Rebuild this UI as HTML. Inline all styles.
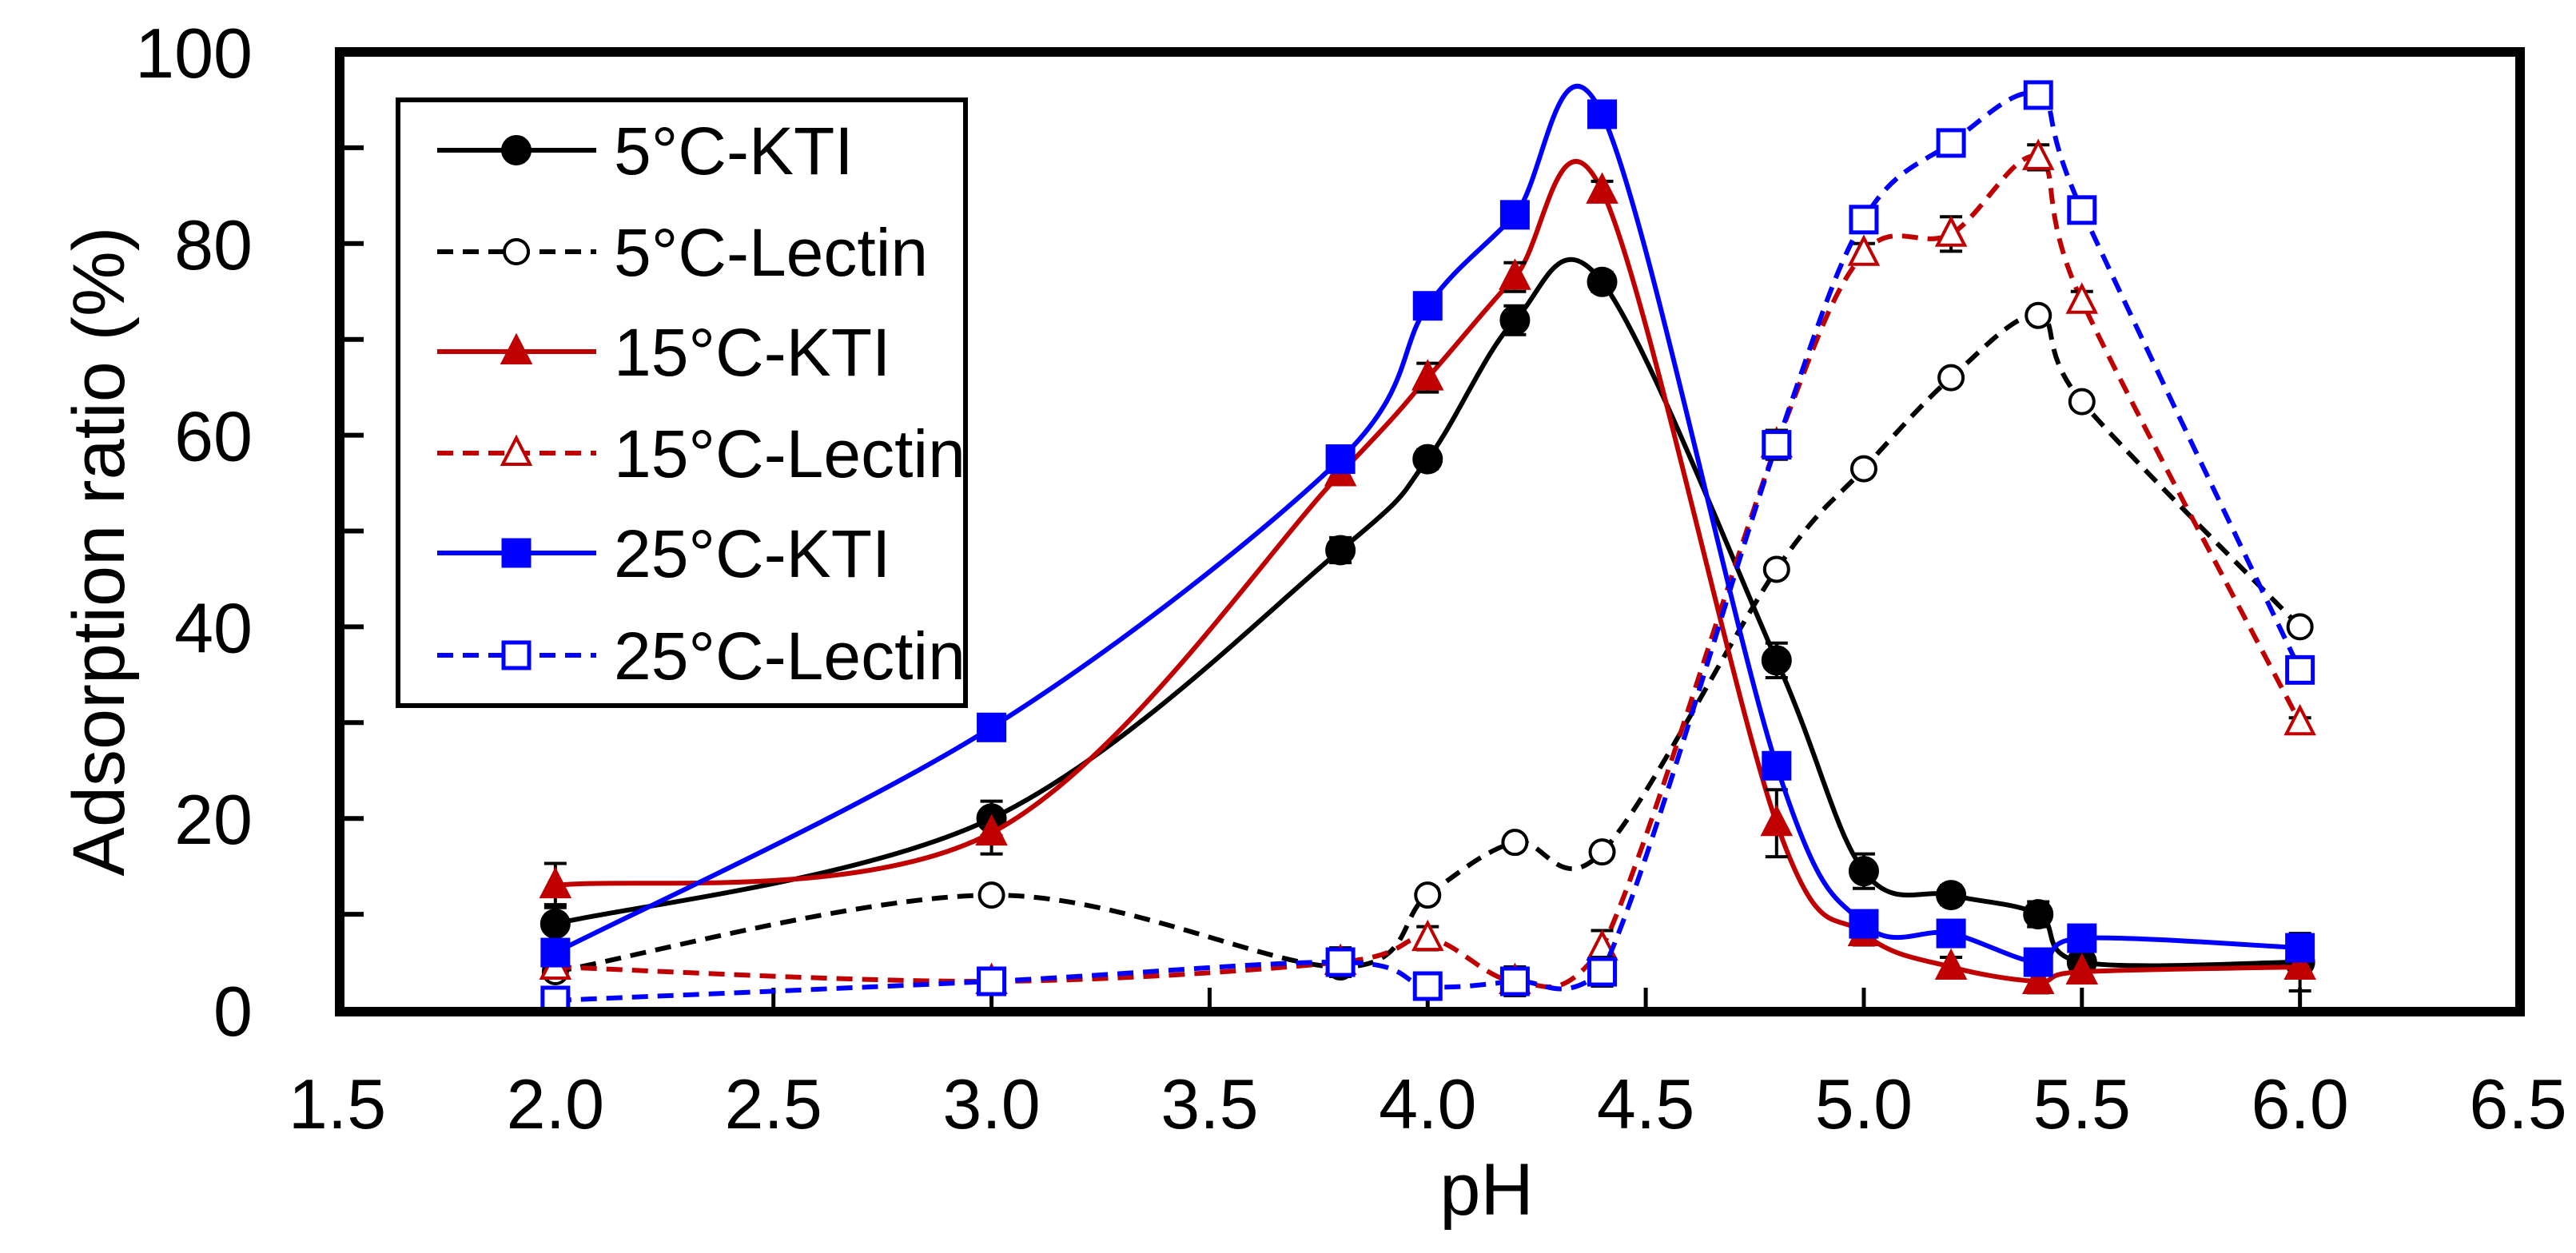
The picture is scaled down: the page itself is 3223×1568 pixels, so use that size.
<!DOCTYPE html>
<html><head><meta charset="utf-8"><style>
html,body{margin:0;padding:0;background:#fff;}
svg{display:block;font-family:"Liberation Sans",Arial,sans-serif;}
</style></head><body>
<svg id="chart" width="3223" height="1568" viewBox="0 0 3223 1568" xmlns="http://www.w3.org/2000/svg">
<rect x="0" y="0" width="3223" height="1568" fill="#fff"/>
<g id="axes"></g>
<g id="series"></g>
<rect x="425" y="65" width="2728" height="1201" fill="none" stroke="#000" stroke-width="12"/>
<g id="legend"></g>
<text x="1860" y="1520" font-size="92" text-anchor="middle">pH</text>
<text transform="translate(155,690) rotate(-90)" font-size="92" text-anchor="middle">Adsorption ratio (%)</text>
</svg>
<script>
const phValues = [2.0, 3.0, 3.8, 4.0, 4.2, 4.4, 4.8, 5.0, 5.2, 5.4, 5.5, 6.0];
const kti5 = [9, 20, 48, 57.5, 72, 76, 36.5, 14.5, 12, 10, 5, 5];
const lectin5 = [4, 12, 4.5, 12, 17.5, 16.5, 46, 56.5, 66, 72.5, 63.5, 40];
const kti15 = [13, 18.5, 56, 66, 76.5, 85.5, 19.5, 8, 4.5, 3, 4, 4.5];
const lectin15 = [4.5, 3, 5, 7.5, 3, 6.5, 59, 79, 81, 89, 74, 30];
const kti25 = [6, 29.5, 57.5, 73.5, 83, 93.5, 25.5, 9, 8, 5, 7.5, 6.5];
const lectin25 = [1, 3, 5, 2.5, 3, 4, 59, 82.5, 90.5, 95.5, 83.5, 35.5];
const err5k = [2, 1.8, 1.3, 1, 1.5, 1, 1.8, 1.8, 1, 1.3, 0.5, 3];
const err15k = [2.3, 2.2, 0.5, 1.5, 1.5, 1, 3.5, 1.2, 1, 1.2, 1, 0.5];
const err15l = [0.5, 0.5, 1.5, 1.2, 1.5, 1.8, 1.5, 1, 1.8, 1.3, 1, 0.5];
const err25l = [0.5, 0.5, 0.8, 0.5, 0.5, 1.5, 1.5, 1, 1.3, 0.5, 0.5, 0.5];
const xTicks = [1.5, 2.0, 2.5, 3.0, 3.5, 4.0, 4.5, 5.0, 5.5, 6.0, 6.5];
const yTicks = [0, 20, 40, 60, 80, 100];
const yMinor = [10, 30, 50, 70, 90];

const NS = "http://www.w3.org/2000/svg";
const X0 = 422, XS = 545.7, Y0 = 1264, YS = 11.99;
function xs(v){ return X0 + (v - 1.5) * XS; }
function ys(v){ return Y0 - v * YS; }
function mk(tag, attrs, parent){
  const e = document.createElementNS(NS, tag);
  for (const k in attrs) e.setAttribute(k, attrs[k]);
  parent.appendChild(e); return e;
}
const axes = document.getElementById('axes');
xTicks.forEach((t, i) => {
  if (i > 0 && i < xTicks.length - 1) {
    const tk = mk('line', {x1: xs(t), x2: xs(t), y1: 1266, y2: 1236, stroke: '#000', 'stroke-width': 5}, axes);
    
    
  }
  const lb = mk('text', {x: xs(t), y: 1412, 'font-size': 88, 'text-anchor': 'middle'}, axes);
  lb.textContent = t.toFixed(1);
  
  
});
yTicks.concat(yMinor).forEach(t => {
  if (t > 0 && t < 100) {
    const tk = mk('line', {x1: 425, x2: 455, y1: ys(t), y2: ys(t), stroke: '#000', 'stroke-width': 6}, axes);
    
    
  }
});
yTicks.forEach(t => {
  const lb = mk('text', {x: 316, y: ys(t) + 32, 'font-size': 88, 'text-anchor': 'end'}, axes);
  lb.textContent = String(t);
  
  
});

function smoothPath(xv, yv){
  const p = xv.map((x, i) => [xs(x), ys(yv[i])]);
  const lim = ys(0.5);
  let d = 'M' + p[0][0] + ',' + p[0][1];
  for (let i = 0; i < p.length - 1; i++) {
    const p0 = p[i - 1] || p[i], p1 = p[i], p2 = p[i + 1], p3 = p[i + 2] || p[i + 1];
    const c1 = [p1[0] + (p2[0] - p0[0]) / 6, Math.min(lim, p1[1] + (p2[1] - p0[1]) / 6)];
    const c2 = [p2[0] - (p3[0] - p1[0]) / 6, Math.min(lim, p2[1] - (p3[1] - p1[1]) / 6)];
    d += ' C' + c1[0] + ',' + c1[1] + ' ' + c2[0] + ',' + c2[1] + ' ' + p2[0] + ',' + p2[1];
  }
  return d;
}
function marker(g, shape, filled, color, cx, cy){
  const fill = filled ? color : '#fff';
  let m;
  if (shape === 'circle') m = mk('circle', {cx: cx, cy: cy, r: filled ? 17 : 15, fill: fill, stroke: color, 'stroke-width': 4}, g);
  else if (shape === 'square') m = mk('rect', {x: cx - 16, y: cy - 16, width: 32, height: 32, fill: fill, stroke: color, 'stroke-width': 5}, g);
  else m = mk('polygon', {points: (cx) + ',' + (cy - 19) + ' ' + (cx + 17) + ',' + (cy + 14) + ' ' + (cx - 17) + ',' + (cy + 14), fill: fill, stroke: color, 'stroke-width': 4}, g);
  return m;
}
const seriesDefs = [
  {name: '5°C-KTI', data: kti5, err: err5k, color: '#000', dash: null, shape: 'circle', filled: true, key: 'kti-5c'},
  {name: '5°C-Lectin', data: lectin5, err: null, color: '#000', dash: '20,12', shape: 'circle', filled: false, key: 'lectin-5c'},
  {name: '15°C-KTI', data: kti15, err: err15k, color: '#c00000', dash: null, shape: 'tri', filled: true, key: 'kti-15c'},
  {name: '15°C-Lectin', data: lectin15, err: err15l, color: '#c00000', dash: '20,12', shape: 'tri', filled: false, key: 'lectin-15c'},
  {name: '25°C-KTI', data: kti25, err: null, color: '#0000ff', dash: null, shape: 'square', filled: true, key: 'kti-25c'},
  {name: '25°C-Lectin', data: lectin25, err: err25l, color: '#0000ff', dash: '20,12', shape: 'square', filled: false, key: 'lectin-25c'}
];
const sl = document.getElementById('series');
seriesDefs.forEach(s => {
  const g = mk('g', {}, sl);
  
  
  const a = {d: smoothPath(phValues, s.data), fill: 'none', stroke: s.color, 'stroke-width': 6};
  if (s.dash) a['stroke-dasharray'] = s.dash;
  const path = mk('path', a, g);
  
  
  if (s.err) s.data.forEach((v, i) => {
    const e = s.err[i], cx = xs(phValues[i]);
    const eb = mk('path', {d: 'M' + cx + ',' + ys(v + e) + 'V' + ys(v - e) + 'M' + (cx - 14) + ',' + ys(v + e) + 'h28M' + (cx - 14) + ',' + ys(v - e) + 'h28', stroke: '#000', 'stroke-width': 4, fill: 'none'}, g);
    
    
  });
  s.data.forEach((v, i) => {
    const m = marker(g, s.shape, s.filled, s.color, xs(phValues[i]), ys(v));
    
    
  });
});
const lg = document.getElementById('legend');
const box = mk('rect', {x: 498, y: 125, width: 710, height: 758, fill: '#fff', stroke: '#000', 'stroke-width': 6}, lg);


const rowsY = [188, 315, 440, 567, 692, 820];
seriesDefs.forEach((s, i) => {
  const g = mk('g', {}, lg);
  
  
  const y = rowsY[i];
  const a = {x1: 547, x2: 746, y1: y, y2: y, stroke: s.color, 'stroke-width': 6};
  if (s.dash) a['stroke-dasharray'] = s.dash;
  const ln = mk('line', a, g);
  
  
  const m = marker(g, s.shape, s.filled, s.color, 646, y);
  
  
  const t = mk('text', {x: 768, y: y + 30, 'font-size': 84}, g);
  t.textContent = s.name;
  
  
});
</script>
</body></html>
